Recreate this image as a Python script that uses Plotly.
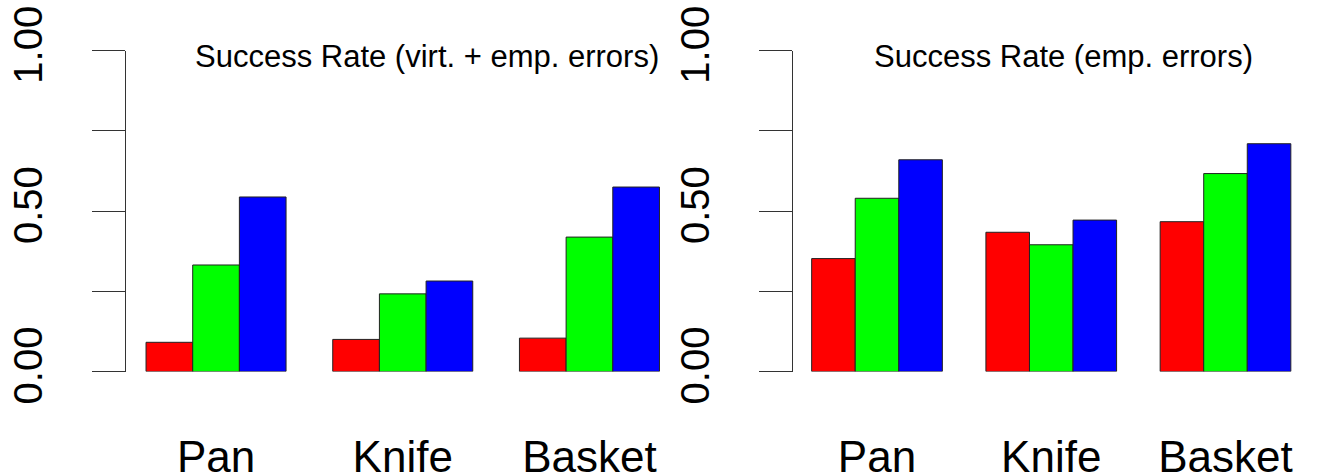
import plotly.graph_objects as go

categories = ["Pan", "Knife", "Basket"]
series_colors = ["#FF0000", "#00FF00", "#0000FF"]

# Left panel: Success Rate (virt. + emp. errors)
left_red = [0.091, 0.100, 0.104]
left_green = [0.332, 0.242, 0.419]
left_blue = [0.544, 0.282, 0.575]

# Right panel: Success Rate (emp. errors)
right_red = [0.352, 0.434, 0.467]
right_green = [0.540, 0.395, 0.617]
right_blue = [0.660, 0.472, 0.710]

ytick_vals = [0, 0.25, 0.5, 0.75, 1.0]
ytick_text = ["0.00", "", "0.50", "", "1.00"]

left_title = "Success Rate (virt. + emp. errors)"
right_title = "Success Rate (emp. errors)"

FONT = "Liberation Sans, Arial, Helvetica, sans-serif"

fig = go.Figure()
for vals, col in zip([left_red, left_green, left_blue], series_colors):
    fig.add_trace(go.Bar(x=categories, y=vals, xaxis="x", yaxis="y",
                         marker=dict(color=col, line=dict(color="#222222", width=1)),
                         showlegend=False))
for vals, col in zip([right_red, right_green, right_blue], series_colors):
    fig.add_trace(go.Bar(x=categories, y=vals, xaxis="x2", yaxis="y2",
                         marker=dict(color=col, line=dict(color="#222222", width=1)),
                         showlegend=False))

ydom = [(475 - 371.5) / 475, (475 - 50.7) / 475]
xdom1 = [125.5 / 1342, 680 / 1342]
xdom2 = [792.5 / 1342, 1310 / 1342]

xaxis_common = dict(range=[-0.485, 2.485], showline=False, showgrid=False, zeroline=False,
                    ticks="", tickfont=dict(family=FONT, size=44, color="black"),
                    ticklabelstandoff=55, automargin=False)
yaxis_common = dict(range=[0, 1], tickvals=ytick_vals, ticktext=ytick_text,
                    showline=True, linecolor="#333333", linewidth=1,
                    ticks="outside", ticklen=33, tickcolor="#333333", tickwidth=1,
                    showgrid=False, zeroline=False, tickangle=-90,
                    tickfont=dict(family=FONT, size=40, color="black"),
                    ticklabelstandoff=34, automargin=False)

fig.update_layout(
    width=1342, height=475,
    margin=dict(l=0, r=0, t=0, b=0, autoexpand=False),
    paper_bgcolor="white", plot_bgcolor="white",
    barmode="group", bargap=0.25, bargroupgap=0,
    xaxis=dict(domain=xdom1, anchor="y", **xaxis_common),
    yaxis=dict(domain=ydom, anchor="x", **yaxis_common),
    xaxis2=dict(domain=xdom2, anchor="y2", **xaxis_common),
    yaxis2=dict(domain=ydom, anchor="x2", **yaxis_common),
    annotations=[
        dict(text=left_title, xref="paper", yref="paper", x=427 / 1342, y=(475 - 56) / 475,
             xanchor="center", yanchor="middle", showarrow=False,
             font=dict(family=FONT, size=31, color="black")),
        dict(text=right_title, xref="paper", yref="paper", x=1063 / 1342, y=(475 - 56) / 475,
             xanchor="center", yanchor="middle", showarrow=False,
             font=dict(family=FONT, size=31, color="black")),
    ],
)

fig.write_html("out.html",
               config={"displayModeBar": False},
               post_script="document.body.style.margin='0px';document.body.style.overflow='hidden';")
